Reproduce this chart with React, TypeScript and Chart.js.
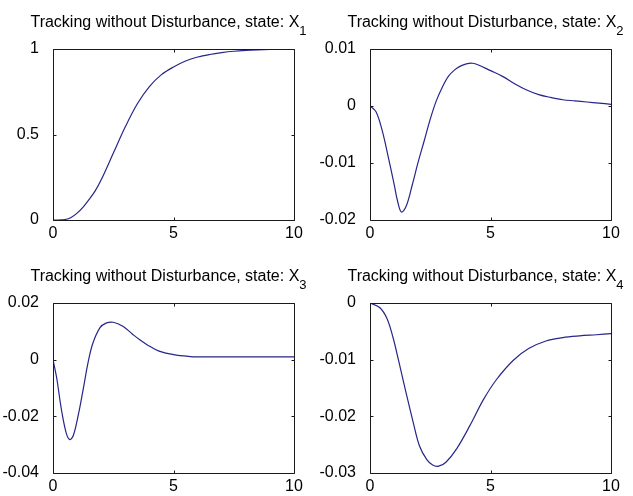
import React, { useEffect, useRef } from "react";
import { Chart, registerables } from "chart.js";

Chart.register(...registerables);

// ---- data: time samples and state trajectories ----
const timeX1 = [0, 0.25, 0.5, 0.75, 1, 1.25, 1.5, 1.75, 2, 2.5, 3, 3.5, 4, 4.5, 5, 5.5, 6, 6.5, 7, 7.5, 8, 8.5, 9, 9.5, 10];
const stateX1 = [0, 0, 0.003, 0.015, 0.04, 0.075, 0.12, 0.17, 0.235, 0.39, 0.545, 0.68, 0.78, 0.85, 0.895, 0.93, 0.953, 0.968, 0.979, 0.987, 0.992, 0.995, 0.997, 0.999, 1.0];

const timeX2 = [0, 0.25, 0.5, 0.75, 1, 1.15, 1.3, 1.5, 1.75, 2, 2.25, 2.5, 2.75, 3, 3.25, 3.5, 3.75, 4, 4.25, 4.5, 5, 5.5, 6, 6.5, 7, 7.5, 8, 8.5, 9, 9.5, 10];
const stateX2 = [0, -0.001, -0.0042, -0.0088, -0.0137, -0.0168, -0.0186, -0.0176, -0.0139, -0.0098, -0.0061, -0.0023, 0.0009, 0.0033, 0.0052, 0.0063, 0.007, 0.0074, 0.0075, 0.0072, 0.0062, 0.0052, 0.0039, 0.0028, 0.002, 0.0015, 0.0011, 0.0009, 0.0007, 0.0005, 0.0003];

const timeX3 = [0, 0.15, 0.35, 0.55, 0.7, 0.85, 1.05, 1.25, 1.45, 1.65, 1.95, 2.2, 2.5, 2.9, 3.3, 3.6, 3.9, 4.4, 5, 5.7, 6, 7, 8, 9, 10];
const stateX3 = [0, -0.0063, -0.0176, -0.0259, -0.0282, -0.0266, -0.0195, -0.0106, -0.0012, 0.0057, 0.0113, 0.0129, 0.0132, 0.0118, 0.009, 0.007, 0.0053, 0.003, 0.0018, 0.0011, 0.001, 0.001, 0.001, 0.001, 0.001];

const timeX4 = [0, 0.4, 0.7, 0.95, 1.2, 1.5, 1.8, 2.05, 2.35, 2.6, 2.85, 3.15, 3.6, 4.15, 4.7, 5.25, 5.95, 6.6, 7.3, 8, 8.7, 9.4, 10];
const stateX4 = [0, -0.0008, -0.0027, -0.006, -0.0104, -0.0159, -0.0212, -0.0252, -0.0276, -0.0286, -0.0288, -0.0281, -0.0257, -0.0216, -0.0171, -0.0135, -0.0101, -0.008, -0.0067, -0.0061, -0.0058, -0.0056, -0.0054];

// ---- axis ticks ----
const timeTicks = [0, 5, 10];
const timeTickLabels = ["0", "5", "10"];

const ticksX1 = [0, 0.5, 1];
const labelsX1 = ["0", "0.5", "1"];
const ticksX2 = [-0.02, -0.01, 0, 0.01];
const labelsX2 = ["-0.02", "-0.01", "0", "0.01"];
const ticksX3 = [-0.04, -0.02, 0, 0.02];
const labelsX3 = ["-0.04", "-0.02", "0", "0.02"];
const ticksX4 = [-0.03, -0.02, -0.01, 0];
const labelsX4 = ["-0.03", "-0.02", "-0.01", "0"];

const titleText = "Tracking without Disturbance, state: X";
const stateIndex = ["1", "2", "3", "4"];

const FONT = '"Liberation Sans", Arial, Helvetica, sans-serif';
const LINE_COLOR = "#26268a";
const AXIS_COLOR = "#1a1a1a";

type Panel = {
  time: number[];
  values: number[];
  yTicks: number[];
  yLabels: string[];
  sub: string;
  left: number;
  top: number;
  width: number;
  height: number;
  area: { left: number; top: number; right: number; bottom: number };
};

const panels: Panel[] = [
  { time: timeX1, values: stateX1, yTicks: ticksX1, yLabels: labelsX1, sub: stateIndex[0],
    left: 0, top: 0, width: 316, height: 248, area: { left: 53, top: 49, right: 294, bottom: 220 } },
  { time: timeX2, values: stateX2, yTicks: ticksX2, yLabels: labelsX2, sub: stateIndex[1],
    left: 316, top: 0, width: 317, height: 248, area: { left: 54, top: 49, right: 295, bottom: 220 } },
  { time: timeX3, values: stateX3, yTicks: ticksX3, yLabels: labelsX3, sub: stateIndex[2],
    left: 0, top: 248, width: 316, height: 248, area: { left: 53, top: 55, right: 294, bottom: 225 } },
  { time: timeX4, values: stateX4, yTicks: ticksX4, yLabels: labelsX4, sub: stateIndex[3],
    left: 316, top: 248, width: 317, height: 248, area: { left: 54, top: 55, right: 295, bottom: 225 } },
];

// Box frame, inward ticks on all four sides, and a title with a subscript
const framePlugin = {
  id: "frameAndTitle",
  afterDraw(chart: any, _args: any, opts: any) {
    const { ctx, chartArea } = chart;
    const { left, top, right, bottom } = chartArea;
    const xs = chart.scales.x;
    const ys = chart.scales.y;
    const L = Math.round(left) + 0.5;
    const R = Math.round(right) + 0.5;
    const T = Math.round(top) + 0.5;
    const B = Math.round(bottom) + 0.5;
    const tick = 3;
    ctx.save();
    ctx.strokeStyle = AXIS_COLOR;
    ctx.lineWidth = 1;
    ctx.beginPath();
    ctx.rect(L, T, R - L, B - T);
    for (const t of xs.ticks) {
      const px = Math.round(xs.getPixelForValue(t.value)) + 0.5;
      ctx.moveTo(px, B);
      ctx.lineTo(px, B - tick);
      ctx.moveTo(px, T);
      ctx.lineTo(px, T + tick);
    }
    for (const t of ys.ticks) {
      const py = Math.round(ys.getPixelForValue(t.value)) + 0.5;
      ctx.moveTo(L, py);
      ctx.lineTo(L + tick, py);
      ctx.moveTo(R, py);
      ctx.lineTo(R - tick, py);
    }
    ctx.stroke();

    // title with state subscript
    ctx.fillStyle = "#000";
    ctx.textBaseline = "alphabetic";
    ctx.textAlign = "left";
    ctx.font = `16px ${FONT}`;
    const mainW = ctx.measureText(opts.title).width;
    ctx.font = `13px ${FONT}`;
    const subW = ctx.measureText(opts.sub).width;
    const total = mainW + subW;
    const cx = (left + right) / 2 - 5;
    const x0 = cx - total / 2;
    const baseline = top - 22;
    ctx.font = `16px ${FONT}`;
    ctx.fillText(opts.title, x0, baseline);
    ctx.font = `13px ${FONT}`;
    ctx.fillText(opts.sub, x0 + mainW, baseline + 8);
    ctx.restore();
  },
};

function StatePanel({ p }: { p: Panel }) {
  const ref = useRef<HTMLCanvasElement | null>(null);
  useEffect(() => {
    if (!ref.current) return;
    const yTicks = p.yTicks;
    const yLabels = p.yLabels;
    const chart = new Chart(ref.current, {
      type: "line",
      data: {
        datasets: [
          {
            data: p.time.map((t, i) => ({ x: t, y: p.values[i] })),
            borderColor: LINE_COLOR,
            borderWidth: 1.2,
            pointRadius: 0,
            fill: false,
            tension: 0.35,
          },
        ],
      },
      options: {
        responsive: false,
        animation: false,
        events: [],
        layout: {
          padding: {
            left: 0,
            top: p.area.top,
            right: p.width - p.area.right,
            bottom: 0,
          },
        },
        plugins: {
          legend: { display: false },
          tooltip: { enabled: false },
          title: { display: false },
          frameAndTitle: { title: titleText, sub: p.sub },
        } as any,
        scales: {
          x: {
            type: "linear",
            min: timeTicks[0],
            max: timeTicks[timeTicks.length - 1],
            grid: { display: false },
            border: { display: false },
            afterBuildTicks: (s: any) => {
              s.ticks = timeTicks.map((v) => ({ value: v }));
            },
            afterFit: (s: any) => {
              s.height = p.height - p.area.bottom;
            },
            ticks: {
              padding: -4,
              color: "#000",
              font: { family: FONT, size: 16 },
              maxRotation: 0,
              autoSkip: false,
              callback: (v: any) => {
                const i = timeTicks.indexOf(Number(v));
                return i >= 0 ? timeTickLabels[i] : "";
              },
            },
          },
          y: {
            type: "linear",
            min: yTicks[0],
            max: yTicks[yTicks.length - 1],
            grid: { display: false },
            border: { display: false },
            afterBuildTicks: (s: any) => {
              s.ticks = yTicks.map((v) => ({ value: v }));
            },
            afterFit: (s: any) => {
              s.width = p.area.left;
            },
            ticks: {
              padding: 6,
              color: "#000",
              font: { family: FONT, size: 16 },
              autoSkip: false,
              callback: (v: any) => {
                const i = yTicks.findIndex((t) => Math.abs(t - Number(v)) < 1e-9);
                return i >= 0 ? yLabels[i] : "";
              },
            },
          },
        },
      },
      plugins: [framePlugin],
    } as any);
    return () => chart.destroy();
  }, [p]);
  return (
    <canvas
      ref={ref}
      width={p.width}
      height={p.height}
      style={{ position: "absolute", left: p.left, top: p.top, width: p.width, height: p.height }}
    />
  );
}

export default function App() {
  return (
    <div
      style={{
        position: "absolute",
        left: 0,
        top: 0,
        width: 633,
        height: 496,
        background: "#fff",
        overflow: "hidden",
      }}
    >
      {panels.map((p, i) => (
        <StatePanel key={i} p={p} />
      ))}
    </div>
  );
}
